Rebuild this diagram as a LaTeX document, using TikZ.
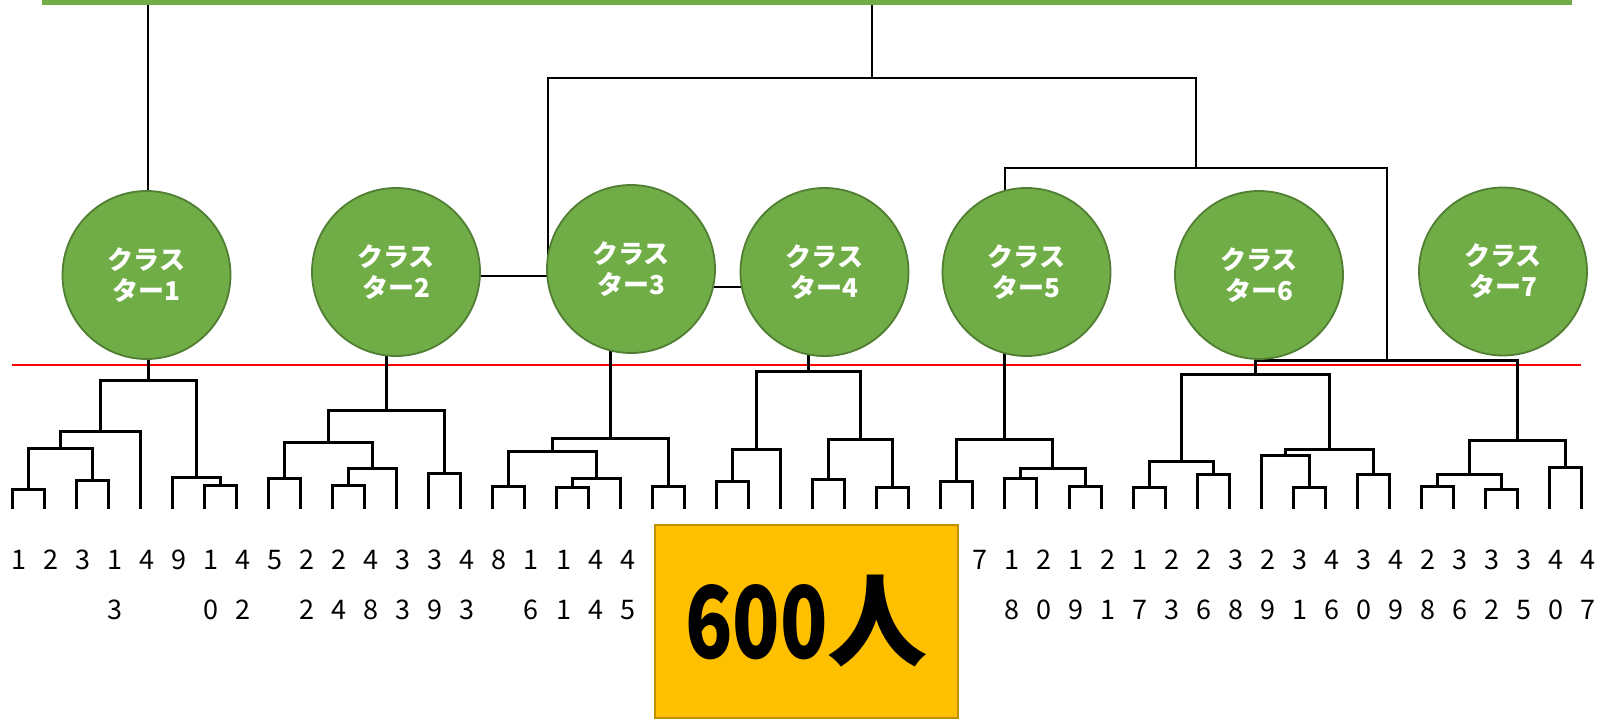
\documentclass[tikz,border=0pt]{standalone}
\usepackage{fontspec}
\usepackage{tikz}
\usetikzlibrary{calc,backgrounds}
\newfontfamily\jp{Noto Sans CJK JP}
\definecolor{cgreen}{RGB}{112,173,71}
\definecolor{cedge}{RGB}{80,126,50}
\definecolor{gold}{RGB}{255,192,0}
\definecolor{goldedge}{RGB}{191,144,0}
% join two branches at a given height
\newcommand{\dmerge}[4]{%
  \coordinate (tmp) at ($(#2)!0.5!(#3)$);
  \coordinate (#1) at (tmp |- 0,#4);
  \draw[dendro] (#2) |- (#1) -| (#3);
}

\begin{document}
\begin{tikzpicture}[
    x=1pt, y=-1pt,
    cluster/.style={circle, draw=cedge, fill=cgreen, line width=1.8, minimum size=168, inner sep=0,
        text=white, align=center, font=\jp\bfseries\fontsize{26}{31}\selectfont},
    num/.style={inner sep=0, font=\jp\fontsize{27}{27}\selectfont},
    dendro/.style={draw=black, line width=3},
    link/.style={draw=black, line width=2.2},
    cut/.style={draw=red, line width=2.5},
    total/.style={rectangle, draw=goldedge, fill=gold, line width=1.8, minimum width=303, minimum height=193,
        inner sep=0, font=\jp\bfseries\fontsize{100}{100}\selectfont}
]
\useasboundingbox (0,0) rectangle (1604,721);

% Top bar
\node[fill=cgreen, minimum width=1530, minimum height=4.7, inner sep=0, anchor=north west] (root) at (42,0) {};

% Clusters
\node[cluster] (c1) at (146.5,275) {クラス\\ター1};
\node[cluster] (c2) at (396,272) {クラス\\ター2};
\node[cluster] (c3) at (631,269) {クラス\\ター3};
\node[cluster] (c4) at (824.5,272) {クラス\\ター4};
\node[cluster] (c5) at (1026.5,272) {クラス\\ター5};
\node[cluster] (c6) at (1259,275) {クラス\\ター6};
\node[cluster] (c7) at (1503,271.5) {クラス\\ター7};

% Leaves and their numbers
\foreach \i in {0,...,49} \coordinate (l\i) at ({12+32.03*\i},509);
\foreach \i/\d in {0/1,1/2,2/3,3/1,4/4,5/9,6/1,7/4,8/5,9/2,10/2,11/4,12/3,13/3,14/4,15/8,16/1,17/1,18/4,19/4,
    30/7,31/1,32/2,33/1,34/2,35/1,36/2,37/2,38/3,39/2,40/3,41/4,42/3,43/4,44/2,45/3,46/3,47/3,48/4,49/4}
  \node[num] (a\i) at ($(l\i)+(7,51)$) {\d};
\foreach \i/\d in {3/3,6/0,7/2,9/2,10/4,11/8,12/3,13/9,14/3,16/6,17/1,18/4,19/5,
    31/8,32/0,33/9,34/1,35/7,36/3,37/6,38/8,39/9,40/1,41/6,42/0,43/9,44/8,45/6,46/2,47/5,48/0,49/7}
  \node[num] (b\i) at ($(l\i)+(7,101)$) {\d};

\begin{scope}[on background layer]
% Cut line
\draw[cut] (l0 |- 0,365) -- (l49 |- 0,365);

% Cluster 1
\dmerge{a1}{l0}{l1}{489}
\dmerge{a2}{l2}{l3}{480}
\dmerge{a3}{a1}{a2}{448}
\dmerge{a4}{a3}{l4}{431}
\dmerge{a5}{l6}{l7}{485}
\dmerge{a6}{l5}{a5}{477}
\dmerge{k1}{a4}{a6}{380}

% Cluster 2
\dmerge{b1}{l8}{l9}{478}
\dmerge{b2}{l10}{l11}{485}
\dmerge{b3}{b2}{l12}{468}
\dmerge{b4}{b1}{b3}{442}
\dmerge{b5}{l13}{l14}{473}
\dmerge{k2}{b4}{b5}{410}

% Cluster 3
\dmerge{d1}{l15}{l16}{486}
\dmerge{d2}{l17}{l18}{487}
\dmerge{d3}{d2}{l19}{478}
\dmerge{d4}{d1}{d3}{451}
\dmerge{d5}{l20}{l21}{486}
\dmerge{k3}{d4}{d5}{438}

% Cluster 4
\dmerge{e1}{l22}{l23}{481}
\dmerge{e2}{e1}{l24}{449}
\dmerge{e3}{l25}{l26}{479}
\dmerge{e4}{l27}{l28}{487}
\dmerge{e5}{e3}{e4}{439}
\dmerge{k4}{e2}{e5}{371}

% Cluster 5
\dmerge{f1}{l29}{l30}{481}
\dmerge{f2}{l31}{l32}{478}
\dmerge{f3}{l33}{l34}{486}
\dmerge{f4}{f2}{f3}{468}
\dmerge{k5}{f1}{f4}{439}

% Cluster 6
\dmerge{g1}{l35}{l36}{487}
\dmerge{g2}{l37}{l38}{474}
\dmerge{g3}{g1}{g2}{461}
\dmerge{g4}{l40}{l41}{487}
\dmerge{g5}{l39}{g4}{455}
\dmerge{g6}{l42}{l43}{474}
\dmerge{g7}{g5}{g6}{449}
\dmerge{k6}{g3}{g7}{374}

% Cluster 7
\dmerge{h1}{l44}{l45}{486}
\dmerge{h2}{l46}{l47}{489}
\dmerge{h3}{h1}{h2}{474}
\dmerge{h4}{l48}{l49}{467}
\dmerge{k7}{h3}{h4}{440}

% Stems up to the clusters
\draw[dendro] (k1) -- (k1 |- c1.center);
\draw[dendro] (k2) -- (k2 |- c2.center);
\draw[dendro] (k3) -- (k3 |- c3.center);
\draw[dendro] (k4) -- (k4 |- c4.center);
\draw[dendro] (k5) -- (k5 |- c5.center);
\draw[dendro] (k6) -- (k6 |- c6.center);

% Links between clusters
\coordinate (u1) at (872,78);
\coordinate (u2) at (1196,168);
\coordinate (v2) at (548,276);
\coordinate (v3) at (727,287);
\coordinate (v6) at (1387,360);
\draw[link] (k1 |- c1.center) -- (k1 |- root.south);
\draw[link] (u1) -- (u1 |- root.south);
\draw[link] (c2 |- v2) -- (v2) |- (u1) -| (u2);
\draw[link] (c3 |- v3) -- (c4 |- v3);
\draw[link] (k5 |- c5.center) |- (u2) -| (v6);
\draw[dendro] (k6 |- v6) -| (k7);
\end{scope}

% Head count
\node[total] (total) at (806.5,621.5) {\scalebox{0.78}[1]{600}人};

\end{tikzpicture}
\end{document}
